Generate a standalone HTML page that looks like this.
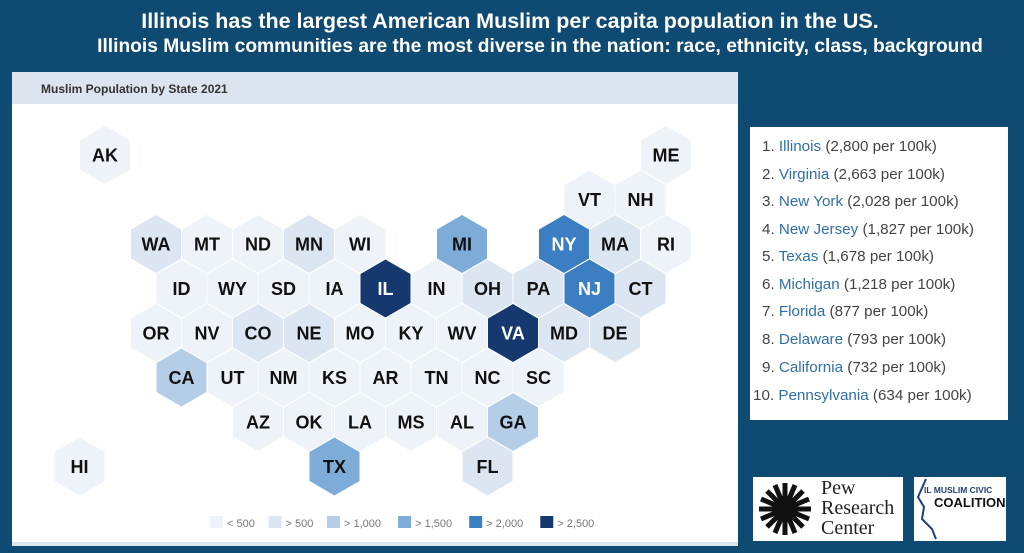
<!DOCTYPE html>
<html><head><meta charset="utf-8"><style>
body{margin:0;width:1024px;height:553px;background:#0e4a72;position:relative;overflow:hidden;font-family:"Liberation Sans",sans-serif}
.title{position:absolute;text-align:center;color:#fff;font-weight:bold;white-space:nowrap}
#panel{position:absolute;left:12px;top:72px;width:726px;height:474px;background:#fff}
#hdr{position:absolute;left:0;top:0;width:726px;height:32px;background:#dce4ef}
#hdr span{position:absolute;left:29px;top:10px;font-size:12px;font-weight:bold;color:#333}
#list{position:absolute;left:750px;top:127px;width:258px;height:293px;background:#fff}
.li{position:absolute;left:12px;font-size:15.2px;color:#444;white-space:nowrap}
.li b{font-weight:normal;color:#2f6fa8}
.logo{position:absolute;background:#fff}
</style></head><body>
<div class="title" style="top:9px;left:10px;width:1000px;font-size:21.5px">Illinois has the largest American Muslim per capita population in the US.</div>
<div class="title" style="top:36px;left:40px;width:1000px;font-size:19.2px">Illinois Muslim communities are the most diverse in the nation: race, ethnicity, class, background</div>
<div id="panel">
<div id="hdr"><span>Muslim Population by State 2021</span></div>
<svg id="map" width="726" height="474" style="position:absolute;left:0;top:0"></svg>
</div>
<div id="list">
<div class="li" style="top:11px">1. <b>Illinois</b> (2,800 per 100k)</div>
<div class="li" style="top:39px">2. <b>Virginia</b> (2,663 per 100k)</div>
<div class="li" style="top:66px">3. <b>New York</b> (2,028 per 100k)</div>
<div class="li" style="top:94px">4. <b>New Jersey</b> (1,827 per 100k)</div>
<div class="li" style="top:121px">5. <b>Texas</b> (1,678 per 100k)</div>
<div class="li" style="top:149px">6. <b>Michigan</b> (1,218 per 100k)</div>
<div class="li" style="top:176px">7. <b>Florida</b> (877 per 100k)</div>
<div class="li" style="top:204px">8. <b>Delaware</b> (793 per 100k)</div>
<div class="li" style="top:232px">9. <b>California</b> (732 per 100k)</div>
<div class="li" style="top:260px;left:3px">10. <b>Pennsylvania</b> (634 per 100k)</div>
</div>
<div class="logo" style="left:753px;top:477px;width:150px;height:64px">
<svg width="60" height="60" style="position:absolute;left:2px;top:2px"><g stroke="#111" stroke-width="5">
<line x1="30" y1="4" x2="30" y2="56"/><line x1="4" y1="30" x2="56" y2="30"/><line x1="12" y1="12" x2="48" y2="48"/><line x1="48" y1="12" x2="12" y2="48"/>
<line x1="20" y1="6" x2="40" y2="54"/><line x1="40" y1="6" x2="20" y2="54"/><line x1="6" y1="20" x2="54" y2="40"/><line x1="6" y1="40" x2="54" y2="20"/></g><circle cx="30" cy="30" r="9" fill="#111"/></svg>
<div style="position:absolute;left:68px;top:1px;font-family:'Liberation Serif',serif;font-size:20px;line-height:20px;color:#222">Pew<br>Research<br>Center</div>
</div>
<div class="logo" style="left:914px;top:477px;width:92px;height:64px">
<svg width="40" height="64" style="position:absolute;left:0;top:0"><path d="M12 2 L4 20 L10 30 L8 42 L18 52 L22 62" fill="none" stroke="#1f3f7a" stroke-width="2"/></svg>
<div style="position:absolute;left:10px;top:8px;font-size:8.5px;font-weight:bold;color:#1f3f7a;white-space:nowrap">IL MUSLIM CIVIC</div>
<div style="position:absolute;left:20px;top:18px;font-size:13px;font-weight:bold;color:#111">COALITION</div>
</div>
<script>
const states=["AK","ME","VT","NH","WA","MT","ND","MN","WI","MI","NY","MA","RI","ID","WY","SD","IA","IL","IN","OH","PA","NJ","CT","OR","NV","CO","NE","MO","KY","WV","VA","MD","DE","CA","UT","NM","KS","AR","TN","NC","SC","AZ","OK","LA","MS","AL","GA","HI","TX","FL"];
const cols=[-1,10,8.5,9.5,0,1,2,3,4,6,8,9,10,0.5,1.5,2.5,3.5,4.5,5.5,6.5,7.5,8.5,9.5,0,1,2,3,4,5,6,7,8,9,0.5,1.5,2.5,3.5,4.5,5.5,6.5,7.5,2,3,4,5,6,7,-1.5,3.5,6.5];
const rows=[0,0,1,1,2,2,2,2,2,2,2,2,2,3,3,3,3,3,3,3,3,3,3,4,4,4,4,4,4,4,4,4,4,5,5,5,5,5,5,5,5,6,6,6,6,6,6,7,7,7];
const values=[300,300,300,300,560,200,200,600,400,1600,2100,600,450,300,200,200,400,2800,450,550,634,2050,600,450,400,600,600,400,450,350,2663,650,793,1100,300,300,400,300,400,450,400,450,450,400,350,450,1050,300,1678,877];
const thresholds=[500,1000,1500,2000,2500];
const legendLabels=["< 500","> 500","> 1,000","> 1,500","> 2,000","> 2,500"];
const palette=["#eef3f9","#dce6f2","#b5cee7","#7eacd8","#3b7fc2","#15396f"];
const NS="http://www.w3.org/2000/svg";
const svg=document.getElementById('map');
const x=c=>144+c*51, y=r=>83+r*44.5;
function colorFor(v){let i=0;thresholds.forEach(t=>{if(v>t)i++;});return i;}
states.forEach((s,i)=>{
  const cx=x(cols[i]),cy=y(rows[i]),w=25,h=29;
  const lvl=colorFor(values[i]);
  const p=document.createElementNS(NS,'polygon');
  p.setAttribute('points',[[cx,cy-h],[cx+w,cy-h/2],[cx+w,cy+h/2],[cx,cy+h],[cx-w,cy+h/2],[cx-w,cy-h/2]].map(a=>a.join(',')).join(' '));
  p.setAttribute('fill',palette[lvl]);
  
  
  svg.appendChild(p);
  const t=document.createElementNS(NS,'text');
  t.setAttribute('x',cx);t.setAttribute('y',cy+6.5);
  t.setAttribute('text-anchor','middle');
  t.setAttribute('font-size','18');t.setAttribute('font-weight','bold');
  t.setAttribute('font-family','Liberation Sans, sans-serif');
  t.setAttribute('fill',lvl>=4?'#fff':'#111');
  t.textContent=s;
  
  
  svg.appendChild(t);
});
let lx=198;
legendLabels.forEach((l,i)=>{
  const r=document.createElementNS(NS,'rect');
  r.setAttribute('x',lx);r.setAttribute('y',444);r.setAttribute('width',13);r.setAttribute('height',12);
  r.setAttribute('fill',palette[i]);
  
  
  svg.appendChild(r);
  const t=document.createElementNS(NS,'text');
  t.setAttribute('x',lx+17);t.setAttribute('y',455);
  t.setAttribute('font-size','11');t.setAttribute('fill','#777');
  t.setAttribute('font-family','Liberation Sans, sans-serif');
  t.textContent=l;
  
  
  svg.appendChild(t);
  lx+=17+l.length*6.3+10;
});
const ln=document.createElementNS(NS,'rect');
ln.setAttribute('x',0);ln.setAttribute('y',470);ln.setAttribute('width',726);ln.setAttribute('height',4);ln.setAttribute('fill','#dce6f0');


svg.appendChild(ln);
</script>
</body></html>
